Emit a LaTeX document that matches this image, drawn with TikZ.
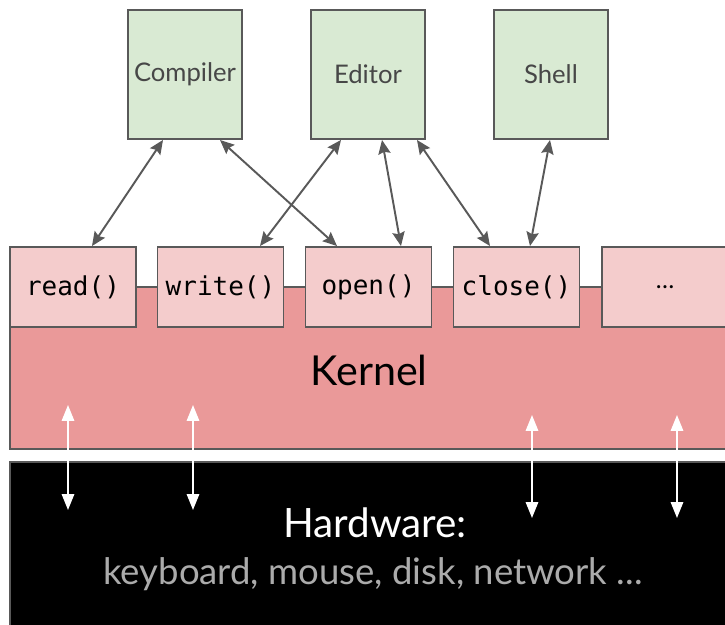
\documentclass[tikz,border=0pt]{standalone}
\usepackage{fontspec}
\setmainfont{Lato}
\newfontfamily\codefont{DejaVu Sans Mono}
\usetikzlibrary{arrows.meta, positioning, calc}
\definecolor{appgreen}{HTML}{D9EAD3}
\definecolor{callpink}{HTML}{F4CCCC}
\definecolor{kernelred}{HTML}{EA9999}
\definecolor{edgegray}{HTML}{595959}
\definecolor{hwgray}{HTML}{ABABAB}

\begin{document}
\begin{tikzpicture}[>={Stealth[length=8pt, width=7pt, inset=1.2pt]}, x=0.02cm, y=-0.02cm,
    app/.style={draw=edgegray, line width=1.1pt, fill=appgreen, text=edgegray!80!black,
      minimum width=2.28cm, minimum height=2.58cm, font=\fontsize{14.6}{17}\selectfont},
    call/.style={draw=edgegray, line width=1.1pt, fill=callpink,
      minimum width=2.52cm, minimum height=1.6cm, font=\codefont\fontsize{14.8}{17}\selectfont},
    link/.style={<->, draw=edgegray, line width=1.1pt},
    hwlink/.style={{Triangle[length=9pt, width=7pt]}-{Triangle[length=9pt, width=7pt]}, draw=white, line width=1.1pt}]
  \useasboundingbox (0,0) rectangle (725,625);

  % Kernel a hardware
  \draw[fill=kernelred, draw=edgegray, line width=1.1pt] (10,287) rectangle (760,449);
  \draw[fill=black, draw=edgegray, line width=1.1pt] (10,462) rectangle (760,660);
  \node[font=\fontsize{23.5}{28}\selectfont] (kernel) at (369,370) {Kernel};
  \node[font=\fontsize{23}{26}\selectfont, text=white] (hw) at (375,523) {Hardware:};
  \node[font=\fontsize{20.8}{24}\selectfont, text=hwgray] (devices) at (373,574) {keyboard, mouse, disk, network ...};

  % Programy
  \node[app] (comp) at (185,74.5) {Compiler};
  \node[app] (edit) at (368,74.5) {Editor};
  \node[app] (shell) at (551,74.5) {Shell};

  % Systemová volání
  \node[call] (read) at (73,287) {read()};
  \node[call] (write) at (220.5,287) {write()};
  \node[call] (open) at (368.5,287) {open()};
  \node[call] (close) at (516.5,287) {close()};
  \node[call, font=\fontsize{14}{16}\selectfont] (more) at (665,287) {…};

  % Spojení
  \draw[link] ([xshift=-0.44cm]comp.south) -- ([xshift=0.38cm]read.north);
  \draw[link] ([xshift=0.7cm]comp.south) -- ([xshift=-0.63cm]open.north);
  \draw[link] ([xshift=-0.54cm]edit.south) -- ([xshift=0.79cm]write.north);
  \draw[link] ([xshift=0.28cm]edit.south) -- ([xshift=0.65cm]open.north);
  \draw[link] ([xshift=0.98cm]edit.south) -- ([xshift=-0.53cm]close.north);
  \draw[link] ([xshift=-0.02cm]shell.south) -- ([xshift=0.27cm]close.north);

  % Kernel <-> hardware
  \foreach \x/\t/\b in {68/405/510, 193/405/510, 532/415/518, 677/415/518}
    \draw[hwlink] (\x,\t) -- (\x,\b);
\end{tikzpicture}
\end{document}
